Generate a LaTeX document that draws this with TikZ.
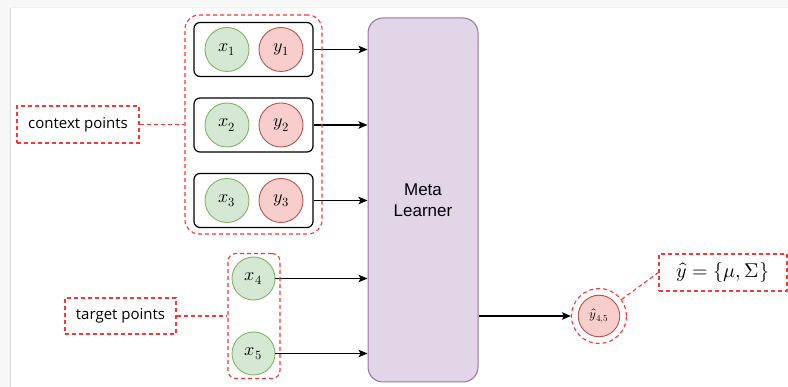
\documentclass[tikz,border=0pt]{standalone}
\usepackage{amsmath}
\usepackage{fontspec}
\usepackage{unicode-math}
\setmathfont{Latin Modern Math}
\newfontfamily\notefont{Open Sans}
\newfontfamily\boxfont{Liberation Sans}
\usetikzlibrary{calc,positioning,arrows.meta}
\definecolor{ptgreen}{HTML}{D5E8D4}
\definecolor{ptgreenline}{HTML}{82B366}
\definecolor{ptred}{HTML}{F8CECC}
\definecolor{ptredline}{HTML}{B85450}
\definecolor{mlfill}{HTML}{E1D5E7}
\definecolor{mlline}{HTML}{9673A6}
\definecolor{notered}{HTML}{F23A3A}
\tikzset{
  xcirc/.style={circle,draw=ptgreenline,fill=ptgreen,line width=0.9pt,minimum size=44pt,inner sep=0pt,font=\fontsize{18}{21}\selectfont},
  ycirc/.style={xcirc,draw=ptredline,fill=ptred},
  pairbox/.style={draw=black,rounded corners=6pt,line width=1.2pt,minimum width=119pt,minimum height=54pt},
  redline/.style={draw=notered,line width=1.1pt,dash pattern=on 4pt off 3pt},
  notebox/.style={redline,inner sep=0pt,font=\notefont\fontsize{15}{18}\selectfont},
  feed/.style={line width=1.2pt,-{Stealth[length=9pt,width=7.5pt,inset=2pt]}},
}
\newcommand{\pairrow}[2]{%
  \node[pairbox] (pair#1) at (253.5,#2) {};
  \node[xcirc] (x#1) at (227,#2) {$x_{#1}$};
  \node[ycirc] (y#1) at (281,#2) {$y_{#1}$};
  \draw[feed] (pair#1.east) -- (pair#1.east -| meta.west);}
\newcommand{\targetpt}[2]{%
  \node[xcirc,minimum size=43pt] (x#1) at (253.5,#2) {$x_{#1}$};
  \draw[feed] (x#1.east) -- (x#1.east -| meta.west);}

\begin{document}
\begin{tikzpicture}[x=1pt,y=-1pt]
  \useasboundingbox (0,0) rectangle (788,387);
  % screenshot frame
  \fill[gray!6] (0,0) rectangle (788,387);
  \fill[white] (11,8) rectangle (788,387);
  \draw[gray!30,line width=1.2pt] (10.4,8) -- (10.4,387);
  \draw[gray!12,line width=1pt] (11,7.6) -- (788,7.6);
  % learner
  \node[draw=mlline,fill=mlfill,line width=1pt,rounded corners=15pt,
        minimum width=110pt,minimum height=364pt,align=center,
        font=\boxfont\fontsize{17}{21}\selectfont] (meta) at (423,200) {Meta\\Learner};
  % context pairs
  \pairrow{1}{49.5}\pairrow{2}{125}\pairrow{3}{200.5}
  \node[redline,rounded corners=14pt,minimum width=137pt,minimum height=219pt] (ctxgroup) at (253.5,124.5) {};
  \node[notebox,minimum width=122pt,minimum height=37pt] (ctxnote) at (78,124.5) {context points};
  \draw[redline] (ctxnote) -- (ctxgroup);
  % target points
  \targetpt{4}{278.5}\targetpt{5}{353.5}
  \node[redline,rounded corners=8pt,minimum width=52pt,minimum height=125pt] (tgtgroup) at (254,316) {};
  \node[notebox,minimum width=111pt,minimum height=36pt] (tgtnote) at (120.5,316) {target points};
  \draw[redline] (tgtnote) -- (tgtgroup);
  % prediction
  \node[ycirc,minimum size=41.5pt,font=\fontsize{13}{15}\selectfont] (yhat) at (599,316) {$\hat{y}_{4,5}$};
  \node[circle,redline,minimum size=55pt,inner sep=0pt] (ring) at (599,316) {};
  \draw[feed] (meta.east |- ring.west) -- (ring.west);
  \node[notebox,minimum width=128pt,minimum height=37pt,font=\fontsize{20}{24}\selectfont] (yhatnote) at (723,272.5) {$\hat{y}=\{\mu,\Sigma\}$};
  \draw[redline] (ring) -- (yhatnote.west);
\end{tikzpicture}
\end{document}
